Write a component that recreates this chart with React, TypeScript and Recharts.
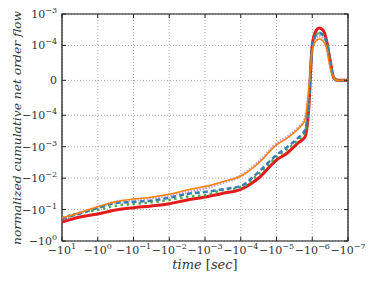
import { CartesianGrid, Line, LineChart, ReferenceArea, XAxis, YAxis } from "recharts";

// time before event [sec] (negative), read at the sampled positions
const times = [
  -10, -3.16, -1, -0.316, -0.1, -0.0316, -0.01, -3.16e-3, -1e-3, -3.16e-4, -1e-4, -3.16e-5, -1e-5,
  -5e-6, -2.5e-6, -1.6e-6, -1.26e-6, -1e-6, -7.9e-7, -6.3e-7, -5e-7, -4e-7, -3.16e-7, -2.5e-7, -2e-7, -1e-7,
];

const orangeFlow = [
  -0.185, -0.126, -0.0809, -0.0561, -0.046, -0.0406, -0.0327, -0.0238, -0.0184, -0.013, -0.00853, -0.0033, -8.8e-4,
  -5.27e-4, -2.73e-4, -1.41e-4, -2.75e-5, 8.7e-5, 1.38e-4, 1.6e-4, 1.38e-4, 9.3e-5, 3.6e-5, 6.9e-6, 0, 0,
];
const purpleFlow = [
  -0.192, -0.128, -0.0857, -0.0573, -0.0495, -0.0428, -0.0344, -0.0275, -0.021, -0.0139, -0.00853, -0.00306, -8.2e-4,
  -4.9e-4, -2.54e-4, -1.31e-4, -4.2e-5, 9.6e-5, 1.72e-4, 1.99e-4, 1.72e-4, 9.9e-5, 4.7e-5, 6.9e-6, 0, 0,
];
const blueFlow = [
  -0.199, -0.133, -0.0889, -0.0617, -0.0573, -0.0521, -0.0419, -0.0319, -0.0275, -0.0226, -0.0177, -0.00637, -0.00183,
  -0.00102, -5.27e-4, -2.94e-4, -7.0e-5, 9.3e-5, 2.14e-4, 2.48e-4, 2.14e-4, 1.28e-4, 5.3e-5, 6.9e-6, 0, 0,
];
const greenFlow = [
  -0.185, -0.128, -0.103, -0.0752, -0.0664, -0.0586, -0.0495, -0.0389, -0.0344, -0.0238, -0.0195, -0.00738, -0.00212,
  -0.00118, -6.1e-4, -3.4e-4, -7.6e-5, 9.6e-5, 2.14e-4, 2.48e-4, 2.14e-4, 1.28e-4, 5.3e-5, 6.9e-6, 0, 0,
];
const redFlow = [
  -0.248, -0.172, -0.138, -0.103, -0.0871, -0.0769, -0.065, -0.0495, -0.0397, -0.0303, -0.0226, -0.00989, -0.00264,
  -0.00158, -7.6e-4, -4.9e-4, -8.5e-5, 1.03e-4, 2.87e-4, 3.58e-4, 3.09e-4, 1.49e-4, 5.8e-5, 6.9e-6, 0, 0,
];

const xTickExps = ["1", "0", "\u22121", "\u22122", "\u22123", "\u22124", "\u22125", "\u22126", "\u22127"];
const xTickTimes = [-10, -1, -1e-1, -1e-2, -1e-3, -1e-4, -1e-5, -1e-6, -1e-7];
const yTickValues = [1e-3, 1e-4, 0, -1e-4, -1e-3, -1e-2, -1e-1, -1];
const yTickLabels = [
  ["", "\u22123"],
  ["", "\u22124"],
  ["0", ""],
  ["\u2212", "\u22124"],
  ["\u2212", "\u22123"],
  ["\u2212", "\u22122"],
  ["\u2212", "\u22121"],
  ["\u2212", "0"],
];

// symlog like matplotlib: linthresh 1e-4, linscale 1
const LIN = 1e-4;
const LSCALE = 1 / (1 - 1 / 10);
const symlog = (v: number) => {
  const a = Math.abs(v);
  if (a <= LIN) return (v / LIN) * LSCALE;
  return Math.sign(v) * (LSCALE + Math.log10(a / LIN));
};
const xPos = (t: number) => 1 - Math.log10(-t);

const data = times.map((t, i) => ({
  pos: xPos(t),
  orange: symlog(orangeFlow[i]),
  purple: symlog(purpleFlow[i]),
  blue: symlog(blueFlow[i]),
  green: symlog(greenFlow[i]),
  red: symlog(redFlow[i]),
}));

const xTicks = xTickTimes.map(xPos);
const yTicks = yTickValues.map(symlog);
const yMin = symlog(-1);
const yMax = symlog(1e-3);

const FONT = "'DejaVu Serif', serif";
const TOP = 14;
const RIGHT = 348;

const nearest = (arr: number[], v: number) => {
  let best = 0;
  arr.forEach((a, i) => {
    if (Math.abs(a - v) < Math.abs(arr[best] - v)) best = i;
  });
  return best;
};

const XTick = (props: any) => {
  const { x, y, payload } = props;
  const i = nearest(xTicks, payload.value);
  return (
    <g>
      <line x1={x} x2={x} y1={y} y2={y - 4} stroke="#222" />
      <line x1={x} x2={x} y1={TOP} y2={TOP + 4} stroke="#222" />
      <text x={x} y={y + 13} textAnchor="middle" fontFamily={FONT} fontSize={11} fill="#333">
        {"\u221210"}
        <tspan dy={-5} fontSize={8}>
          {xTickExps[i]}
        </tspan>
      </text>
    </g>
  );
};

const YTick = (props: any) => {
  const { x, y, payload } = props;
  const i = nearest(yTicks, payload.value);
  const [sign, exp] = yTickLabels[i];
  return (
    <g>
      <line x1={x} x2={x + 4} y1={y} y2={y} stroke="#222" />
      <line x1={RIGHT} x2={RIGHT - 4} y1={y} y2={y} stroke="#222" />
      <text x={x - 5} y={y + 4} textAnchor="end" fontFamily={FONT} fontSize={11} fill="#333">
        {exp === "" ? (
          sign
        ) : (
          <>
            {sign + "10"}
            <tspan dy={-5} fontSize={8}>
              {exp}
            </tspan>
          </>
        )}
      </text>
    </g>
  );
};

export default function App() {
  return (
    <div style={{ position: "fixed", left: 0, top: 0, width: 374, height: 282, background: "#fff" }}>
      <LineChart width={374} height={282} data={data} margin={{ top: 14, right: 26, bottom: 11, left: 10 }}>
        <CartesianGrid stroke="#9a9a9a" strokeDasharray="1 2" strokeWidth={0.8} />
        <XAxis
          dataKey="pos"
          type="number"
          domain={[0, 8]}
          ticks={xTicks}
          allowDataOverflow
          height={30}
          tickSize={0}
          tickMargin={0}
          axisLine={false}
          tickLine={false}
          tick={(p: any) => <XTick {...p} />}
          interval={0}
        />
        <YAxis
          type="number"
          domain={[yMin, yMax]}
          ticks={yTicks}
          allowDataOverflow
          width={52}
          tickSize={0}
          tickMargin={0}
          axisLine={false}
          tickLine={false}
          tick={(p: any) => <YTick {...p} />}
          interval={0}
        />
        <Line dataKey="purple" type="monotone" stroke="#984ea3" strokeOpacity={0.55} strokeWidth={3} strokeDasharray="1.5 1.5" dot={false} isAnimationActive={false} />
        <Line dataKey="red" type="monotone" stroke="#e41a1c" strokeWidth={3} dot={false} isAnimationActive={false} />
        <Line dataKey="green" type="monotone" stroke="#4daf4a" strokeWidth={2.5} strokeDasharray="2.5 3.5" dot={false} isAnimationActive={false} />
        <Line dataKey="blue" type="monotone" stroke="#377eb8" strokeWidth={2.5} strokeDasharray="5 3" dot={false} isAnimationActive={false} />
        <Line dataKey="orange" type="monotone" stroke="#ff7f00" strokeWidth={1.5} dot={false} isAnimationActive={false} />
        <ReferenceArea x1={0} x2={8} y1={yMin} y2={yMax} fill="none" stroke="#111" strokeWidth={1.2} />
      </LineChart>
      <svg width={374} height={282} style={{ position: "absolute", left: 0, top: 0, pointerEvents: "none" }}>
        <text
          transform="translate(21,128) rotate(-90)"
          textAnchor="middle"
          fontFamily={FONT}
          fontStyle="italic"
          fontSize={11}
          fill="#333"
          textLength={234}
          lengthAdjust="spacingAndGlyphs"
        >
          normalized cumulative net order flow
        </text>
        <text x={205} y={269} textAnchor="middle" fontFamily={FONT} fontStyle="italic" fontSize={13} fill="#333">
          time <tspan fontStyle="normal">[</tspan>sec<tspan fontStyle="normal">]</tspan>
        </text>
      </svg>
    </div>
  );
}
